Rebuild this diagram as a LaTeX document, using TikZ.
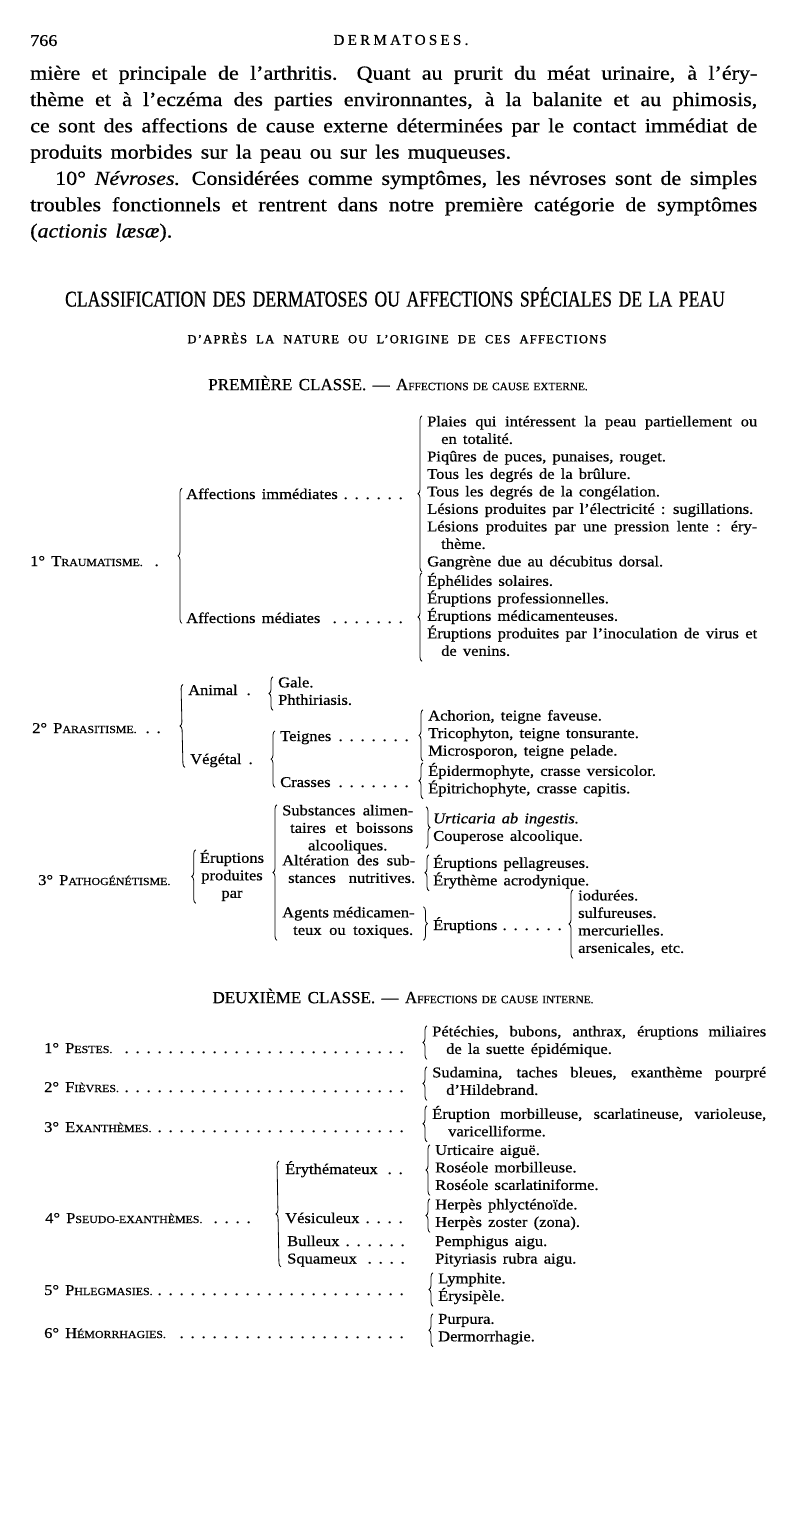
\documentclass[tikz,border=0pt]{standalone}
\usepackage{fontspec}
\setmainfont{Liberation Serif}[FakeStretch=1.1,WordSpace=1.5,FakeBold=0.6]
\newfontfamily\titrefont{Liberation Serif}[Ligatures=TeX,FakeStretch=0.78,WordSpace=1.5,FakeBold=0.6]
\newfontfamily\capfont{Liberation Serif}[Ligatures=TeX,WordSpace=1.5,FakeBold=0.6]
\usetikzlibrary{decorations.pathreplacing}

\newcommand{\tablefont}{\fontsize{15}{17.5}\selectfont}
\newcommand{\textefont}{\fontsize{20}{26.3}\selectfont}
\newcommand{\pc}[3][10.8]{#2{\fontsize{#1}{12}\selectfont #3}}
\newcommand{\pointill}{\leaders\hbox to 11pt{\hss.\hss}\hfill}
\newcommand{\entree}[2]{\makebox[#1][l]{#2\pointill}}

\tikzset{
  accolade/.style={decorate, decoration={brace, amplitude=4pt}, line width=0.8pt},
  liste/.style={anchor=north west, inner sep=0pt, align=left, font=\tablefont,
    execute at begin node=\strut, execute at end node=\strut},
  etiq/.style={anchor=base west, inner sep=0pt, font=\tablefont},
  titre/.style={inner sep=0pt}
}

\begin{document}
\begin{tikzpicture}[x=1pt, y=-1pt]
\useasboundingbox (0,0) rectangle (800,1524);

% en-tete de page
\node[etiq, font=\fontsize{16.5}{18}\selectfont] (folio) at (30,46) {766};
\node[titre, font={\capfont\fontsize{15}{18}\selectfont\addfontfeature{LetterSpace=22}}] (entete) at (401,40) {DERMATOSES.};

% fin du texte courant
\node[anchor=north west, inner sep=0pt, align=left, font=\textefont, execute at begin node=\strut] (texte) at (30,65.6) {%
\makebox[727pt][s]{mière et principale de l'arthritis. Quant au prurit du méat urinaire, à l'éry-}\\
\makebox[727pt][s]{thème et à l'eczéma des parties environnantes, à la balanite et au phimosis,}\\
\makebox[727pt][s]{ce sont des affections de cause externe déterminées par le contact immédiat de}\\
produits morbides sur la peau ou sur les muqueuses.\\
\hspace*{25pt}\makebox[702pt][s]{10° \textit{Névroses.} Considérées comme symptômes, les névroses sont de simples}\\
\makebox[727pt][s]{troubles fonctionnels et rentrent dans notre première catégorie de symptômes}\\
(\textit{actionis læsæ}).};

% titres du tableau
\node[titre, font={\titrefont\fontsize{22.6}{24}\selectfont}] (titre) at (395,297) {CLASSIFICATION DES DERMATOSES OU AFFECTIONS SPÉCIALES DE LA PEAU};
\node[titre, font={\capfont\fontsize{12.5}{14}\selectfont\addfontfeature{FakeBold=1.6,LetterSpace=10}}] (soustitre) at (397,338) {\makebox[419pt][s]{D'APRÈS LA NATURE OU L'ORIGINE DE CES AFFECTIONS}};
\node[titre, font={\capfont\fontsize{17}{19}\selectfont}] (classe1) at (398,383) {PREMIÈRE CLASSE. — \pc[11.3]{A}{FFECTIONS DE CAUSE EXTERNE.}};

% 1 Traumatisme
\node[etiq] (trauma) at (30,566) {\entree{140pt}{1° \pc{T}{RAUMATISME.}}};
\node[etiq] (imm) at (186,499) {\entree{226pt}{Affections immédiates}};
\node[etiq] (med) at (186,623) {\entree{228pt}{Affections médiates}};
\node[liste] (Limm) at (427,415.75) {\makebox[330pt][s]{Plaies qui intéressent la peau partiellement ou}\\
\hspace*{14pt}en totalité.\\
Piqûres de puces, punaises, rouget.\\
Tous les degrés de la brûlure.\\
Tous les degrés de la congélation.\\
Lésions produites par l'électricité : sugillations.\\
\makebox[330pt][s]{Lésions produites par une pression lente : éry-}\\
\hspace*{14pt}thème.\\
Gangrène due au décubitus dorsal.};
\node[liste] (Lmed) at (427,572.75) {Éphélides solaires.\\
Éruptions professionnelles.\\
Éruptions médicamenteuses.\\
\makebox[330pt][s]{Éruptions produites par l'inoculation de virus et}\\
\hspace*{14pt}de venins.};
\draw[accolade] ([xshift=-4pt]med.south west) -- ([xshift=-4pt]imm.north west);
\draw[accolade] ([xshift=-5pt]Limm.south west) -- ([xshift=-5pt]Limm.north west);
\draw[accolade] ([xshift=-5pt]Lmed.south west) -- ([xshift=-5pt]Lmed.north west);

% 2 Parasitisme
\node[etiq] (para) at (32,733) {\entree{138pt}{2° \pc{P}{ARASITISME.}}};
\node[etiq] (anim) at (188,695) {\entree{70pt}{Animal}};
\node[liste] (Lanim) at (278,676.75) {Gale.\\Phthiriasis.};
\node[etiq] (veg) at (190,764) {\entree{70pt}{Végétal}};
\node[etiq] (teig) at (280,741) {\entree{132pt}{Teignes}};
\node[etiq] (cras) at (280,787) {\entree{132pt}{Crasses}};
\node[liste] (Lteig) at (428,709.75) {Achorion, teigne faveuse.\\Tricophyton, teigne tonsurante.\\Microsporon, teigne pelade.};
\node[liste] (Lcras) at (428,762.75) {Épidermophyte, crasse versicolor.\\Épitrichophyte, crasse capitis.};
\draw[accolade] ([xshift=-5pt]veg.south west) -- ([xshift=-5pt]anim.north west);
\draw[accolade] ([xshift=-5pt]Lanim.south west) -- ([xshift=-5pt]Lanim.north west);
\draw[accolade] ([xshift=-5pt]cras.south west) -- ([xshift=-5pt]teig.north west);
\draw[accolade] ([xshift=-5pt]Lteig.south west) -- ([xshift=-5pt]Lteig.north west);
\draw[accolade] ([xshift=-5pt]Lcras.south west) -- ([xshift=-5pt]Lcras.north west);

% 3 Pathogenetisme
\node[etiq] (patho) at (38,885) {\entree{145pt}{3° \pc{P}{ATHOGÉNÉTISME.}}};
\node[liste, anchor=north, align=center] (erup) at (232,849.75) {Éruptions\\produites\\par};
\draw[accolade] ([xshift=-4pt]erup.south west) -- ([xshift=-4pt]erup.north west);
\node[liste] (subst) at (282,804.75) {\makebox[131pt][s]{Substances alimen-}\\
\hspace*{8pt}\makebox[123pt][s]{taires et boissons}\\
\makebox[131pt][c]{alcooliques.}};
\node[liste] (alt) at (282,854.75) {\makebox[133pt][s]{Altération des sub-}\\
\hspace*{6pt}\makebox[127pt][s]{stances nutritives.}};
\node[liste] (agent) at (282,906.75) {\makebox[131pt][s]{Agents médicamen-}\\
\hspace*{11pt}\makebox[120pt][s]{teux ou toxiques.}};
\draw[accolade] ([xshift=-5pt]agent.south west) -- ([xshift=-5pt]subst.north west);
\node[liste] (Lsubst) at (433,812.75) {\textit{Urticaria ab ingestis.}\\Couperose alcoolique.};
\draw[accolade] ([xshift=-7pt,yshift=6pt]Lsubst.north west) -- ([xshift=-7pt,yshift=-2pt]Lsubst.south west);
\node[liste] (Lalt) at (433,854.75) {Éruptions pellagreuses.\\Érythème acrodynique.};
\draw[accolade] ([xshift=-4pt]Lalt.south west) -- ([xshift=-4pt]Lalt.north west);
\node[etiq] (erup2) at (433,930) {\entree{134pt}{Éruptions}};
\draw[accolade] ([xshift=10pt]agent.north east) -- ([xshift=10pt]agent.south east);
\node[liste] (Lagent) at (578,889.75) {iodurées.\\sulfureuses.\\mercurielles.\\arsenicales, etc.};
\draw[accolade] ([xshift=-5pt]Lagent.south west) -- ([xshift=-5pt]Lagent.north west);

% deuxieme classe
\node[titre, font={\capfont\fontsize{17}{19}\selectfont}] (classe2) at (403,996) {DEUXIÈME CLASSE. — \pc[11.3]{A}{FFECTIONS DE CAUSE INTERNE.}};

\node[etiq] (pestes) at (44,1053) {\entree{371pt}{1° \pc{P}{ESTES.}}};
\node[liste] (Lpestes) at (432,1025.75) {\makebox[334pt][s]{Pétéchies, bubons, anthrax, éruptions miliaires}\\
\hspace*{14pt}de la suette épidémique.};
\draw[accolade] ([xshift=-5pt]Lpestes.south west) -- ([xshift=-5pt]Lpestes.north west);

\node[etiq] (fievres) at (44,1092) {\entree{371pt}{2° \pc{F}{IÈVRES.}}};
\node[liste] (Lfievres) at (432,1066.75) {\makebox[334pt][s]{Sudamina, taches bleues, exanthème pourpré}\\
\hspace*{14pt}d'Hildebrand.};
\draw[accolade] ([xshift=-5pt]Lfievres.south west) -- ([xshift=-5pt]Lfievres.north west);

\node[etiq] (exanth) at (44,1132) {\entree{371pt}{3° \pc{E}{XANTHÈMES.}}};
\node[liste] (Lexanth) at (432,1105.75) {\makebox[334pt][s]{Éruption morbilleuse, scarlatineuse, varioleuse,}\\
\hspace*{16pt}varicelliforme.};
\draw[accolade] ([xshift=-5pt]Lexanth.south west) -- ([xshift=-5pt]Lexanth.north west);

\node[etiq] (pseudo) at (45,1223) {\entree{217pt}{4° \pc{P}{SEUDO-EXANTHÈMES.}}};
\node[etiq] (ery) at (285,1174) {\entree{130pt}{Érythémateux}};
\node[etiq] (vesi) at (285,1223) {\entree{130pt}{Vésiculeux}};
\node[etiq] (bul) at (287,1246) {\entree{128pt}{Bulleux}};
\node[etiq] (squa) at (287,1263.5) {\entree{128pt}{Squameux}};
\draw[accolade] ([xshift=-6pt]squa.south west) -- ([xshift=-6pt]ery.north west);
\node[liste] (Lery) at (435,1144.75) {Urticaire aiguë.\\Roséole morbilleuse.\\Roséole scarlatiniforme.};
\node[liste] (Lvesi) at (435,1198.75) {Herpès phlycténoïde.\\Herpès zoster (zona).};
\node[etiq] (pemph) at (435,1246) {Pemphigus aigu.};
\node[etiq] (pityr) at (435,1263.5) {Pityriasis rubra aigu.};
\draw[accolade] ([xshift=-5pt]Lery.south west) -- ([xshift=-5pt]Lery.north west);
\draw[accolade] ([xshift=-5pt]Lvesi.south west) -- ([xshift=-5pt]Lvesi.north west);

\node[etiq] (phleg) at (44,1295) {\entree{371pt}{5° \pc{P}{HLEGMASIES.}}};
\node[liste] (Lphleg) at (438,1272.75) {Lymphite.\\Érysipèle.};
\draw[accolade] ([xshift=-5pt]Lphleg.south west) -- ([xshift=-5pt]Lphleg.north west);

\node[etiq] (hemo) at (44,1338) {\entree{371pt}{6° \pc{H}{ÉMORRHAGIES.}}};
\node[liste] (Lhemo) at (438,1313.75) {Purpura.\\Dermorrhagie.};
\draw[accolade] ([xshift=-5pt]Lhemo.south west) -- ([xshift=-5pt]Lhemo.north west);
\end{tikzpicture}
\end{document}
